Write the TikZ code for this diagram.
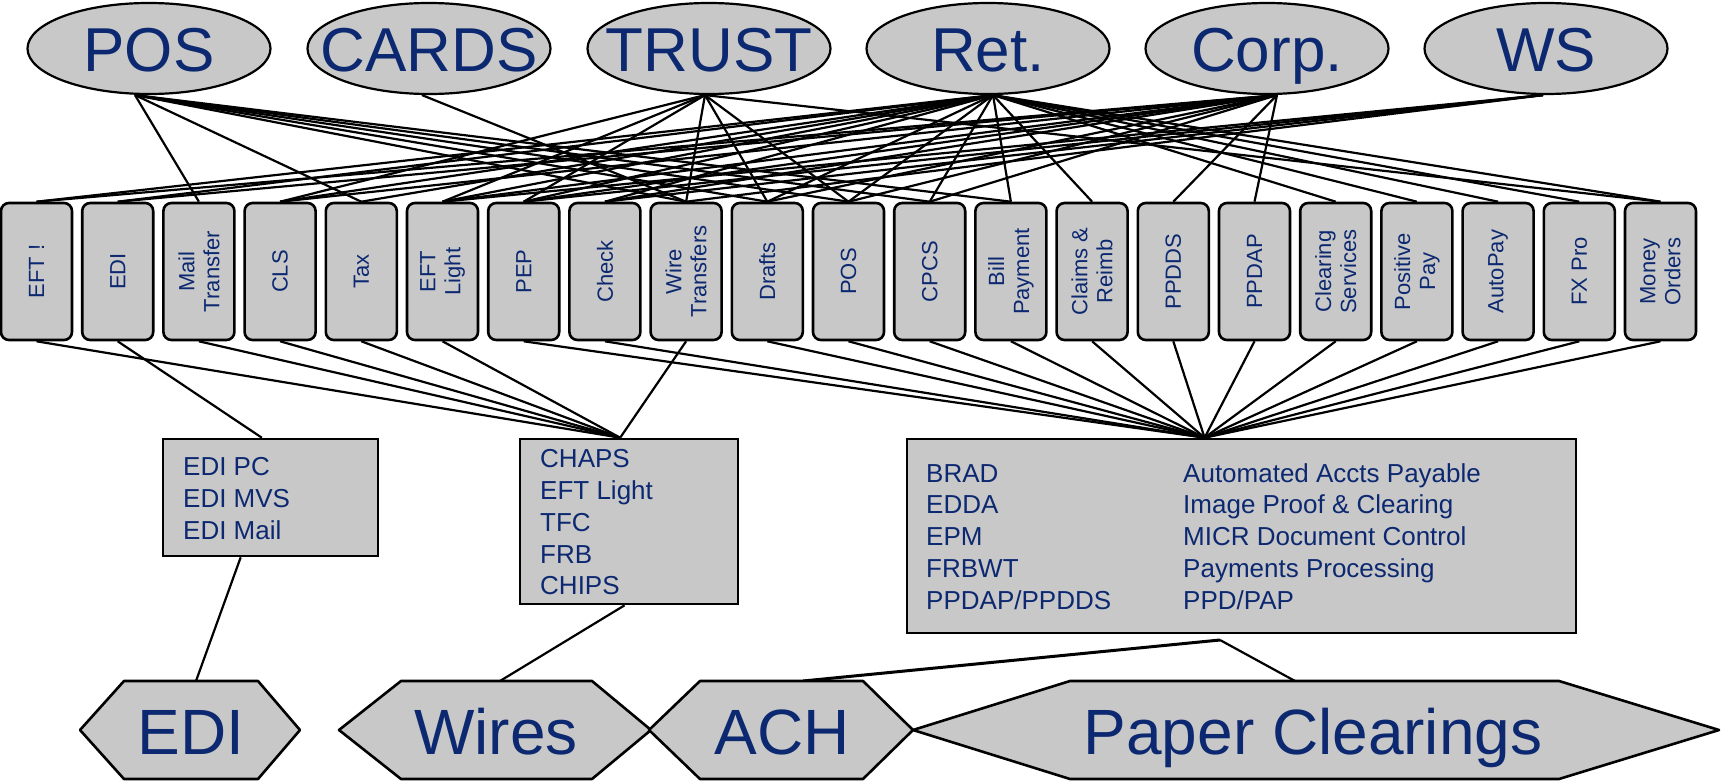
\documentclass[tikz,border=0pt]{standalone}
\usepackage{fontspec}
\setmainfont{Liberation Sans}
\usetikzlibrary{shapes.geometric,calc,backgrounds}
\definecolor{navy}{RGB}{12,40,112}
\definecolor{panel}{RGB}{200,200,200}

\begin{document}
\begin{tikzpicture}[x=1pt,y=-1pt,
  biz/.style={ellipse, draw, line width=2.2pt, fill=panel, minimum width=243pt,
    minimum height=91pt, inner sep=0pt},
  biztext/.style={inner sep=0pt, text=navy, font=\fontsize{62}{62}\selectfont,
    text height=44pt, text depth=0pt},
  prodbox/.style={draw, line width=2.6pt, fill=panel, rounded corners=8pt,
    minimum width=71pt, minimum height=137pt, inner sep=0pt},
  prodtext/.style={rotate=90, align=center, text=navy, inner sep=0pt,
    font=\fontsize{22}{25}\selectfont},
  listbox/.style={draw, line width=2.6pt, fill=panel, inner sep=0pt},
  listtext/.style={anchor=base west, inner sep=0pt, text=navy,
    font=\fontsize{26}{32}\selectfont},
  railhex/.style={draw, line width=2.6pt, fill=panel, line join=round},
  railtext/.style={anchor=base, inner sep=0pt, text=navy,
    font=\fontsize{64}{64}\selectfont},
  link/.style={line width=2.2pt},
  boldlink/.style={line width=3pt},
]
\useasboundingbox (0,0) rectangle (1724,781);

% lines of business
\foreach \n/\x/\t in {ePOS/149/POS, eCARDS/429/CARDS, eTRUST/709/TRUST,
                      eRET/988/Ret., eCORP/1267/Corp., eWS/1546/WS} {
  \node[biz] (\n) at (\x,48.5) {};
  \node[biztext] (\n t) at (\x,50) {\t};
}

\coordinate (hPOS)   at ($(ePOS.south)+(-14,0)$);
\coordinate (hCARDS) at ($(eCARDS.south)+(-7,0)$);
\coordinate (hTRUST) at ($(eTRUST.south)+(-4,0)$);
\coordinate (hRET)   at ($(eRET.south)+(5,0)$);
\coordinate (hCORP)  at ($(eCORP.south)+(10,0)$);
\coordinate (hWS)    at ($(eWS.south)+(-3,0)$);

% payment products
\foreach \i/\t in {0/{EFT !},1/{EDI},2/{Mail\\Transfer},3/{CLS},4/{Tax},
    5/{EFT\\Light},6/{PEP},7/{Check},8/{Wire\\Transfers},9/{Drafts},10/{POS},
    11/{CPCS},12/{Bill\\Payment},13/{Claims \&\\Reimb},14/{PPDDS},15/{PPDAP},
    16/{Clearing\\Services},17/{Positive\\Pay},18/{AutoPay},19/{FX Pro},
    20/{Money\\Orders}} {
  \node[prodbox] (b\i) at ({36.5+81.2*\i},271.5) {};
  \node[prodtext] (t\i) at (b\i.center) {\t};
}

% processing systems
\node[listbox, minimum width=215pt, minimum height=117pt] (ediBox) at (270.5,497.5) {};
\node[listtext] (edi1) at (183,475) {EDI PC};
\node[listtext] (edi2) at (183,507) {EDI MVS};
\node[listtext] (edi3) at (183,539) {EDI Mail};

\node[listbox, minimum width=218pt, minimum height=165pt] (chapsBox) at (629,521.5) {};
\node[listtext] (wr1) at (540,467) {CHAPS};
\node[listtext] (wr2) at (540,499) {EFT Light};
\node[listtext] (wr3) at (540,531) {TFC};
\node[listtext] (wr4) at (540,563) {FRB};
\node[listtext] (wr5) at (540,594) {CHIPS};

\node[listbox, minimum width=669pt, minimum height=194pt] (bigBox) at (1241.5,536) {};
\foreach \j/\a/\b in {0/BRAD/Automated Accts Payable,
                      1/EDDA/Image Proof \& Clearing,
                      2/EPM/MICR Document Control,
                      3/FRBWT/Payments Processing,
                      4/PPDAP\slash PPDDS/PPD\slash PAP} {
  \node[listtext] (pl\j) at (926,{482+31.75*\j}) {\a};
  \node[listtext] (pr\j) at (1183,{482+31.75*\j}) {\b};
}

% clearing channels
\draw[railhex] (80,730) -- (124,681) -- (258,681) -- (300,730) -- (258,779) -- (124,779) -- cycle;
\draw[railhex] (339,730) -- (401,681) -- (592,681) -- (651,730) -- (592,779) -- (401,779) -- cycle;
\draw[railhex] (649,730) -- (700,681) -- (863,681) -- (913,730) -- (863,779) -- (700,779) -- cycle;
\draw[railhex] (913,730) -- (1070,681) -- (1559,681) -- (1719,730) -- (1559,779) -- (1070,779) -- cycle;
\node[railtext] (hexEDI)   at (191,754)  {EDI};
\node[railtext] (hexWires) at (496,754)  {Wires};
\node[railtext] (hexACH)   at (782,754)  {ACH};
\node[railtext] (hexPaper) at (1313,754) {Paper Clearings};
\coordinate (ediTop)   at (196,681);
\coordinate (wiresTop) at (500,681);
\coordinate (achTop)   at (803,681);
\coordinate (paperTop) at (1295,681);
\coordinate (split)    at (1220,640);

\begin{pgfonlayer}{background}
  % business to product
  \foreach \k in {2,4,8,9,10,11,12} \draw[link] (hPOS) -- (b\k.north);
  \draw[link] (hCARDS) -- (b8.north);
  \foreach \k in {3,5,6,8,9,10,20} \draw[link] (hTRUST) -- (b\k.north);
  \foreach \k in {0,1,3,4,5,6,7,9,10,11,12,13,16,17,18,19,20}
    \draw[link] (hRET) -- (b\k.north);
  \foreach \k in {0,1,3,5,6,7,9,10,11,14,15} \draw[link] (hCORP) -- (b\k.north);
  \foreach \k in {5,6,7,8} \draw[link] (hWS) -- (b\k.north);

  % product to system
  \coordinate (ediIn)   at ($(ediBox.north west)!0.46!(ediBox.north east)$);
  \coordinate (wireIn)  at ($(chapsBox.north west)!0.46!(chapsBox.north east)$);
  \coordinate (clearIn) at ($(bigBox.north west)!0.445!(bigBox.north east)$);
  \draw[link] (b1.south) -- (ediIn);
  \foreach \k in {0,2,3,4,5,8} \draw[link] (b\k.south) -- (wireIn);
  \foreach \k in {6,7,9,10,11,12,13,14,15,16,17,18,19,20}
    \draw[link] (b\k.south) -- (clearIn);

  % system to channel
  \coordinate (ediOut)  at ($(ediBox.south west)!0.363!(ediBox.south east)$);
  \coordinate (wireOut) at ($(chapsBox.south west)!0.48!(chapsBox.south east)$);
  \draw[link] (ediOut) -- (ediTop);
  \draw[link] (wireOut) -- (wiresTop);
  \draw[boldlink] (split) -- (achTop);
  \draw[link] (split) -- (paperTop);
\end{pgfonlayer}
\end{tikzpicture}
\end{document}
